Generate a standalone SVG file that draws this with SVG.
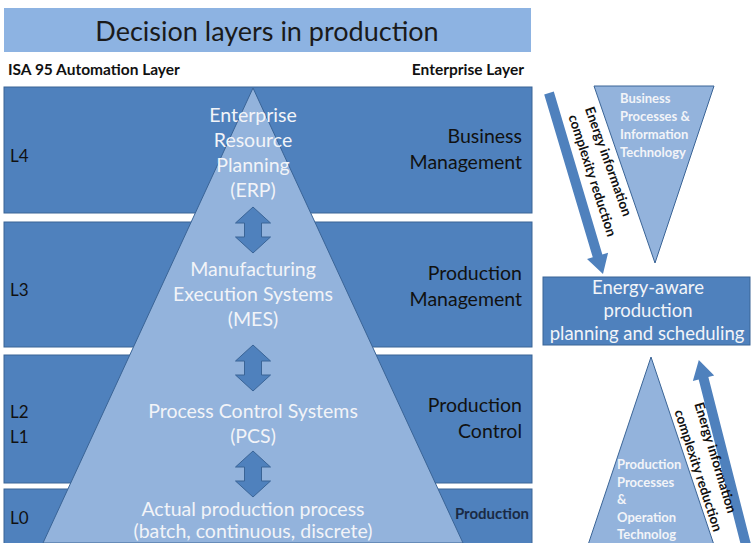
<svg xmlns="http://www.w3.org/2000/svg" width="752" height="543" viewBox="0 0 752 543">
<style>
.band{fill:#4f81bd;stroke:#3a6496;stroke-width:1}
.tri{fill:#93b3dc;stroke:#3a6496;stroke-width:1}
.arr{fill:#4f81bd;stroke:#3a6496;stroke-width:1}
.bigarr{fill:#4f81bd;stroke:none}
.t{font-family:Lato,"Open Sans","Liberation Sans",sans-serif}
.pw{fill:#f2f4f8;font-size:19.5px;text-anchor:middle}
.lab{fill:#111;font-size:17px}
.rl{fill:#111;font-size:19.5px;text-anchor:end}
.hd{fill:#111;font-size:15.5px;font-weight:bold}
.tw{fill:#f2f4f8;font-size:13px;font-weight:bold}
.rot{fill:#111;font-size:13.5px;font-weight:bold;text-anchor:middle}
.ew{fill:#f2f4f8;font-size:18.5px;text-anchor:middle}
</style>
<defs>
<path id="dbl" d="M0,0 L17.5,16 L8.5,16 L8.5,30 L17.5,30 L0,46 L-17.5,30 L-8.5,30 L-8.5,16 L-17.5,16 Z"/>
</defs>
<rect width="752" height="543" fill="#ffffff"/>
<g id="title">
<rect x="4" y="8" width="527" height="44" fill="#8db3e2"/>
<text class="t" x="267" y="41" font-size="27" fill="#1a1a1a" text-anchor="middle">Decision layers in production</text>
</g>
<g id="headers">
<text class="t hd" x="8" y="75">ISA 95 Automation Layer</text>
<text class="t hd" x="524" y="75" text-anchor="end">Enterprise Layer</text>
</g>
<g id="bands">
<rect class="band" x="4" y="87" width="528" height="126"/>
<rect class="band" x="4" y="222" width="528" height="125"/>
<rect class="band" x="4" y="355" width="528" height="128"/>
<rect class="band" x="4" y="489" width="528" height="60"/>
</g>
<g id="pyramid">
<polygon class="tri" points="253,88 463,543 43,543"/>
</g>
<g id="connectors">
<use href="#dbl" class="arr" x="253" y="207"/>
<use href="#dbl" class="arr" x="253" y="345"/>
<use href="#dbl" class="arr" x="253" y="451"/>
<polygon class="bigarr" points="0,-5 170,-5 170,-11 189,0 170,11 170,5 0,5" transform="translate(549,93) rotate(73.4)"/>
<polygon class="bigarr" points="0,-5 172,-5 172,-11 191,0 172,11 172,5 0,5" transform="translate(746,545) rotate(-104.3)"/>
</g>
<g id="level-labels">
<text class="t lab" x="10" y="162">L4</text>
<text class="t lab" x="10" y="296">L3</text>
<text class="t lab" x="10" y="418">L2</text>
<text class="t lab" x="10" y="443">L1</text>
<text class="t lab" x="10" y="524">L0</text>
</g>
<g id="erp">
<text class="t pw" x="253" y="122">Enterprise</text>
<text class="t pw" x="253" y="147">Resource</text>
<text class="t pw" x="253" y="172">Planning</text>
<text class="t pw" x="253" y="197">(ERP)</text>
</g>
<g id="mes">
<text class="t pw" x="253" y="276">Manufacturing</text>
<text class="t pw" x="253" y="301">Execution Systems</text>
<text class="t pw" x="253" y="326">(MES)</text>
</g>
<g id="pcs">
<text class="t pw" x="253" y="418">Process Control Systems</text>
<text class="t pw" x="253" y="443">(PCS)</text>
</g>
<g id="process">
<text class="t pw" x="253" y="516">Actual production process</text>
<text class="t pw" x="253" y="538">(batch, continuous, discrete)</text>
</g>
<g id="enterprise-labels">
<text class="t rl" x="522" y="143">Business</text>
<text class="t rl" x="522" y="169">Management</text>
<text class="t rl" x="522" y="280">Production</text>
<text class="t rl" x="522" y="306">Management</text>
<text class="t rl" x="522" y="412">Production</text>
<text class="t rl" x="522" y="438">Control</text>
<text class="t" x="529" y="519" font-size="15" font-weight="bold" fill="#1a2a44" text-anchor="end">Production</text>
</g>
<g id="business-triangle">
<polygon class="tri" points="594,86 714,86 655,263"/>
<text class="t tw" x="620" y="103">Business</text>
<text class="t tw" x="620" y="121">Processes &amp;</text>
<text class="t tw" x="620" y="139">Information</text>
<text class="t tw" x="620" y="157">Technology</text>
</g>
<g id="energy-aware">
<rect class="band" x="543" y="277" width="207" height="68"/>
<text class="t ew" x="648" y="294">Energy-aware</text>
<text class="t ew" x="648" y="317">production</text>
<text class="t ew" x="647" y="340">planning and scheduling</text>
</g>
<g id="production-triangle">
<polygon class="tri" points="651,357 714,545 588,545"/>
<text class="t tw" x="617" y="469">Production</text>
<text class="t tw" x="617" y="487">Processes</text>
<text class="t tw" x="617" y="504">&amp;</text>
<text class="t tw" x="617" y="522">Operation</text>
<text class="t tw" x="617" y="539">Technolog</text>
</g>
<g id="arrow-labels">
<text class="t rot" transform="translate(604,163) rotate(70.5)">Energy information</text>
<text class="t rot" transform="translate(588,177) rotate(72)">complexity reduction</text>
<text class="t rot" transform="translate(711,459) rotate(73)">Energy information</text>
<text class="t rot" transform="translate(694,472) rotate(72)">complexity reduction</text>
</g>
</svg>
